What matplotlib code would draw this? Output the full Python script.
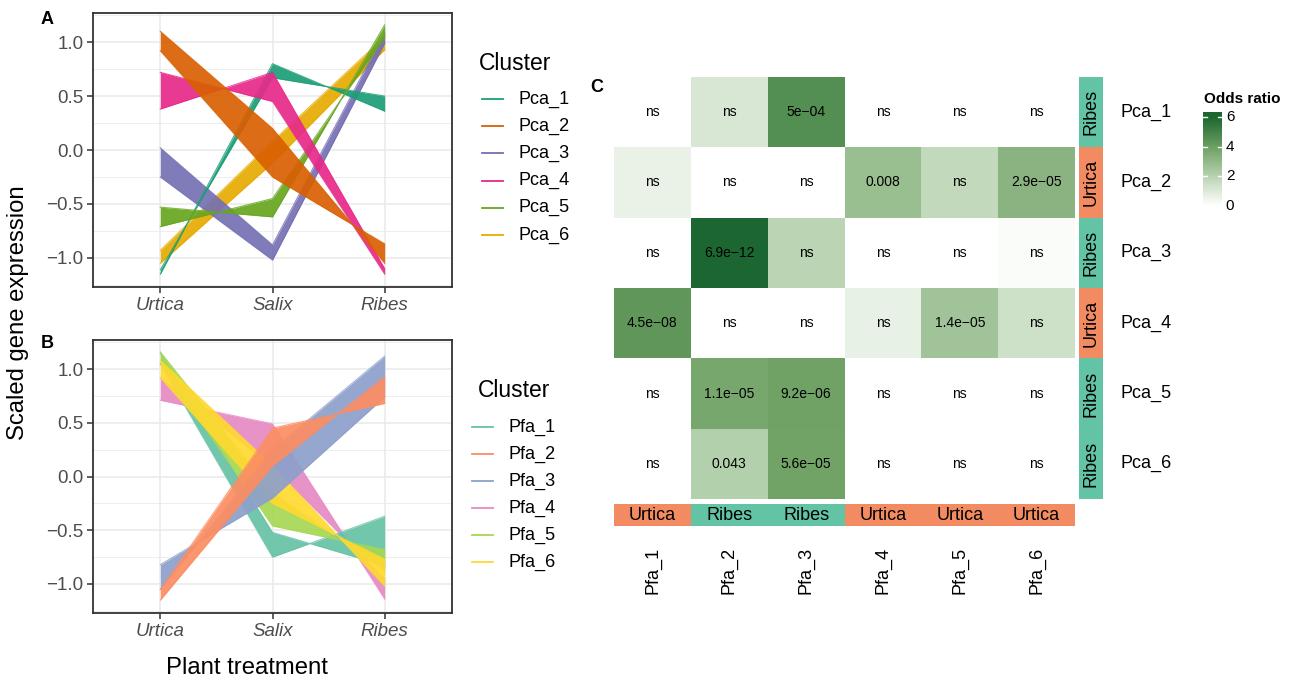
import numpy as np
import matplotlib
matplotlib.use("Agg")
import matplotlib.pyplot as plt
from matplotlib.colors import LinearSegmentedColormap
from matplotlib.lines import Line2D

plt.rcParams['font.family'] = ['Liberation Sans', 'DejaVu Sans']

# ---------------- data ----------------
treatments = ["Urtica", "Salix", "Ribes"]

pca_names = ["Pca_1", "Pca_2", "Pca_3", "Pca_4", "Pca_5", "Pca_6"]
pca_colors = ["#1B9E77", "#D95F02", "#7570B3", "#E7298A", "#66A61E", "#E6AB02"]
# two extreme gene profiles per cluster (Urtica, Salix, Ribes)
pca_edge_a = [[-1.15, 0.80, 0.36],
              [1.10, 0.20, -1.05],
              [0.02, -0.88, 1.09],
              [0.72, 0.45, -1.15],
              [-0.53, -0.62, 1.16],
              [-0.93, 0.08, 1.05]]
pca_edge_b = [[-1.11, 0.67, 0.50],
              [0.92, -0.25, -0.87],
              [-0.25, -1.02, 0.99],
              [0.38, 0.72, -1.10],
              [-0.71, -0.45, 1.05],
              [-1.05, -0.12, 0.93]]
pca_draw_order = [5, 2, 0, 4, 3, 1]

pfa_names = ["Pfa_1", "Pfa_2", "Pfa_3", "Pfa_4", "Pfa_5", "Pfa_6"]
pfa_colors = ["#66C2A5", "#FC8D62", "#8DA0CB", "#E78AC3", "#A6D854", "#FFD92F"]
pfa_edge_a = [[1.15, -0.52, -0.83],
              [-1.05, 0.45, 0.68],
              [-0.82, -0.20, 0.74],
              [0.92, 0.09, -0.95],
              [1.16, -0.15, -0.88],
              [1.08, 0.10, -1.02]]
pfa_edge_b = [[1.05, -0.75, -0.37],
              [-1.15, 0.10, 0.93],
              [-1.05, 0.25, 1.12],
              [0.71, 0.49, -1.14],
              [1.05, -0.46, -0.68],
              [0.92, -0.25, -0.77]]
pfa_draw_order = [3, 0, 4, 5, 2, 1]

# enrichment of Pca clusters (rows) vs Pfa clusters (columns)
odds_ratio = [[0.0, 1.1, 4.6, 0.0, 0.0, 0.0],
              [0.6, 0.0, 0.0, 2.8, 1.7, 3.2],
              [0.0, 6.0, 1.9, 0.0, 0.0, 0.15],
              [4.3, 0.0, 0.0, 0.65, 2.6, 1.4],
              [0.0, 3.7, 3.9, 0.0, 0.0, 0.0],
              [0.0, 2.1, 3.85, 0.0, 0.0, 0.0]]
p_labels = [["ns", "ns", "5e\u221204", "ns", "ns", "ns"],
            ["ns", "ns", "ns", "0.008", "ns", "2.9e\u221205"],
            ["ns", "6.9e\u221212", "ns", "ns", "ns", "ns"],
            ["4.5e\u221208", "ns", "ns", "ns", "1.4e\u221205", "ns"],
            ["ns", "1.1e\u221205", "9.2e\u221206", "ns", "ns", "ns"],
            ["ns", "0.043", "5.6e\u221205", "ns", "ns", "ns"]]
row_host = ["Ribes", "Urtica", "Ribes", "Urtica", "Ribes", "Ribes"]
col_host = ["Urtica", "Ribes", "Ribes", "Urtica", "Urtica", "Urtica"]
host_colors = {"Urtica": "#F38B62", "Ribes": "#62C4A5"}
cbar_ticks = [0, 2, 4, 6]

# ---------------- layout helpers ----------------
W, H = 1291, 682
fig = plt.figure(figsize=(W / 100, H / 100), dpi=100)
fig.patch.set_facecolor("white")


def box(x0, y0, x1, y1):
    return [x0 / W, 1 - y1 / H, (x1 - x0) / W, (y1 - y0) / H]


def fx(px):
    return px / W


def fy(py):
    return 1 - py / H


GRID = "#EBEBEB"
DARK = "#333333"


def bundle_panel(ax, names, edge_a, edge_b, colors, order):
    xpos = np.arange(1, len(treatments) + 1)
    for yv in [-1.25, -0.75, -0.25, 0.25, 0.75, 1.25]:
        ax.axhline(yv, color=GRID, lw=0.6, zorder=0)
    for yv in [-1.0, -0.5, 0.0, 0.5, 1.0]:
        ax.axhline(yv, color=GRID, lw=1.2, zorder=0)
    for xv in xpos:
        ax.axvline(xv, color=GRID, lw=1.2, zorder=0)
    for k in order:
        a, b, c = edge_a[k], edge_b[k], colors[k]
        ax.fill_between(xpos, a, b, color=c, lw=0, alpha=0.92, zorder=2)
        ax.plot(xpos, a, color=c, lw=0.8, alpha=0.8, zorder=2)
        ax.plot(xpos, b, color=c, lw=0.8, alpha=0.8, zorder=2)
    ax.set_xlim(0.4, 3.6)
    ax.set_ylim(-1.27, 1.27)
    ax.set_xticks(xpos)
    ax.set_xticklabels(treatments, fontstyle="italic")
    ax.set_yticks([-1.0, -0.5, 0.0, 0.5, 1.0])
    ax.set_yticklabels(["\u22121.0", "\u22120.5", "0.0", "0.5", "1.0"])
    ax.tick_params(direction="out", length=4, width=1.1, color=DARK,
                   labelcolor="#4D4D4D", labelsize=13.5, pad=3)
    for s in ax.spines.values():
        s.set_color(DARK)
        s.set_linewidth(1.3)


def manual_legend(title, tx, ty, names, colors, y0, step, lx0, lx1, tlx):
    fig.text(fx(tx), fy(ty), title, fontsize=16.5, ha="left", va="center")
    for i, (n, c) in enumerate(zip(names, colors)):
        y = y0 + step * i
        fig.add_artist(Line2D([fx(lx0), fx(lx1)], [fy(y), fy(y)], color=c,
                              lw=1.3, transform=fig.transFigure))
        fig.text(fx(tlx), fy(y), n, fontsize=13, ha="left", va="center")


# ---------------- panel A ----------------
axA = fig.add_axes(box(93, 13, 452, 287))
bundle_panel(axA, pca_names, pca_edge_a, pca_edge_b, pca_colors, pca_draw_order)
manual_legend("Cluster", 479, 63, pca_names, pca_colors, 99, 27.2, 482, 503, 519)

# ---------------- panel B ----------------
axB = fig.add_axes(box(93, 340, 452, 613))
bundle_panel(axB, pfa_names, pfa_edge_a, pfa_edge_b, pfa_colors, pfa_draw_order)
manual_legend("Cluster", 478, 390, pfa_names, pfa_colors, 427, 27.0, 472, 493, 509)

fig.text(fx(18), fy(313), "Scaled gene expression", rotation=90,
         fontsize=17.2, ha="center", va="center")
fig.text(fx(247), fy(668), "Plant treatment", fontsize=17.2,
         ha="center", va="center")

for lab, px, py in [("A", 47, 19), ("B", 47, 343), ("C", 597, 87)]:
    fig.text(fx(px), fy(py), lab, fontsize=13, fontweight="bold",
             ha="center", va="center")

# ---------------- panel C: heatmap ----------------
cmap = LinearSegmentedColormap.from_list(
    "odds", [(0.0, "#FFFFFF"), (1 / 3, "#B7D2B0"), (2 / 3, "#6C9F61"), (1.0, "#1B6631")])

nr, nc = len(pca_names), len(pfa_names)
axH = fig.add_axes(box(614, 77, 1075, 499))
axH.pcolormesh(np.arange(nc + 1), np.arange(nr + 1), np.array(odds_ratio),
               cmap=cmap, vmin=0, vmax=6, edgecolors="none")
for i in range(nr):
    for j in range(nc):
        axH.text(j + 0.5, i + 0.5, p_labels[i][j], fontsize=10,
                 ha="center", va="center", color="black")
axH.set_xlim(0, nc)
axH.set_ylim(nr, 0)
axH.axis("off")

# column annotation (bottom)
axBot = fig.add_axes(box(614, 504, 1075, 526))
axBot.bar(np.arange(nc) + 0.5, 1, width=1.0,
          color=[host_colors[h] for h in col_host], edgecolor="none")
for j, h in enumerate(col_host):
    axBot.text(j + 0.5, 0.5, h, fontsize=13, ha="center", va="center")
    axBot.text(j + 0.5, -0.95, pfa_names[j], fontsize=13, rotation=90,
               ha="center", va="top", transform=axBot.get_xaxis_transform())
axBot.set_xlim(0, nc)
axBot.set_ylim(0, 1)
axBot.axis("off")

# row annotation (right)
axR = fig.add_axes(box(1079, 77, 1103, 499))
axR.barh(np.arange(nr) + 0.5, 1, height=1.0,
         color=[host_colors[h] for h in row_host], edgecolor="none")
for i, h in enumerate(row_host):
    axR.text(0.5, i + 0.5, h, fontsize=13, rotation=90, ha="center", va="center")
    axR.text(1.75, i + 0.5, pca_names[i], fontsize=13, ha="left", va="center",
             transform=axR.get_yaxis_transform())
axR.set_xlim(0, 1)
axR.set_ylim(nr, 0)
axR.axis("off")

# colour key
axC = fig.add_axes(box(1203, 112, 1222, 210))
lo, hi = -0.3, 6.34
edges = np.linspace(lo, hi, 200)
mids = 0.5 * (edges[:-1] + edges[1:])
axC.pcolormesh([0, 1], edges, mids[:, None], cmap=cmap, vmin=0, vmax=6)
for v in cbar_ticks[1:]:
    axC.plot([0, 0.2], [v, v], color="white", lw=1)
    axC.plot([0.8, 1], [v, v], color="white", lw=1)
for v in cbar_ticks:
    axC.text(1.2, v, str(v), fontsize=11, ha="left", va="center",
             transform=axC.get_yaxis_transform())
axC.set_xlim(0, 1)
axC.set_ylim(lo, hi)
axC.axis("off")
fig.text(fx(1204), fy(99), "Odds ratio", fontsize=11, fontweight="bold",
         ha="left", va="center")

fig.savefig("out.png", dpi=100, facecolor="white")
